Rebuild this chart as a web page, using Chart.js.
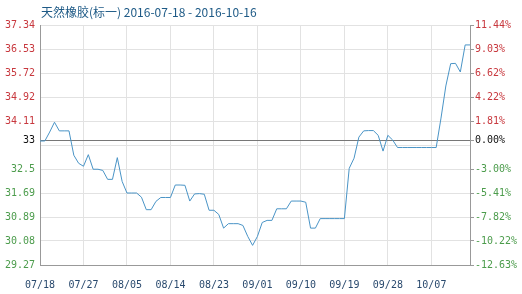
<!DOCTYPE html>
<html>
<head>
<meta charset="utf-8">
<script src="https://cdn.jsdelivr.net/npm/chart.js@4.4.0/dist/chart.umd.min.js"></script>
<style>
    html, body { margin: 0; padding: 0; background: #fff; }
</style>
</head>
<body>
<canvas id="chart" width="522" height="294"></canvas>
<script>
const titleText = "天然橡胶(标一) 2016-07-18 - 2016-10-16";

const dates = [
    "07/18", "07/19", "07/20", "07/21", "07/22", "07/23", "07/24", "07/25", "07/26", "07/27",
    "07/28", "07/29", "07/30", "07/31",
    "08/01", "08/02", "08/03", "08/04", "08/05", "08/06", "08/07", "08/08", "08/09", "08/10",
    "08/11", "08/12", "08/13", "08/14", "08/15", "08/16", "08/17", "08/18", "08/19", "08/20",
    "08/21", "08/22", "08/23", "08/24", "08/25", "08/26", "08/27", "08/28", "08/29", "08/30", "08/31",
    "09/01", "09/02", "09/03", "09/04", "09/05", "09/06", "09/07", "09/08", "09/09", "09/10",
    "09/11", "09/12", "09/13", "09/14", "09/15", "09/16", "09/17", "09/18", "09/19", "09/20",
    "09/21", "09/22", "09/23", "09/24", "09/25", "09/26", "09/27", "09/28", "09/29", "09/30",
    "10/01", "10/02", "10/03", "10/04", "10/05", "10/06", "10/07", "10/08", "10/09", "10/10",
    "10/11", "10/12", "10/13", "10/14", "10/15"
];

const prices = [
    33.44, 33.44, 33.74, 34.07, 33.78, 33.78, 33.78, 32.96, 32.69, 32.59,
    32.98, 32.49, 32.49, 32.45, 32.15, 32.15, 32.88, 32.08, 31.69, 31.69,
    31.69, 31.55, 31.13, 31.13, 31.41, 31.54, 31.54, 31.54, 31.96, 31.96,
    31.95, 31.42, 31.66, 31.67, 31.65, 31.11, 31.11, 30.97, 30.51, 30.66,
    30.66, 30.66, 30.60, 30.23, 29.93, 30.23, 30.70, 30.77, 30.77, 31.16,
    31.16, 31.16, 31.42, 31.42, 31.42, 31.38, 30.51, 30.51, 30.83, 30.83,
    30.83, 30.83, 30.83, 30.83, 32.52, 32.86, 33.57, 33.78, 33.79, 33.79,
    33.63, 33.10, 33.63, 33.47, 33.22, 33.22, 33.22, 33.22, 33.22, 33.22,
    33.22, 33.22, 33.22, 34.21, 35.29, 36.04, 36.05, 35.76, 36.67, 36.67
];

// y ticks, bottom to top (the "33" base line sits between grid lines)
const yMin = 29.27;
const yMax = 37.34;
const baseValue = 33.45;
const tickValues = [29.27, 30.077, 30.884, 31.691, 32.498, 33.305, 33.45, 34.112, 34.919, 35.726, 36.533, 37.34];
const leftLabels = ["29.27", "30.08", "30.89", "31.69", "32.5", "", "33", "34.11", "34.92", "35.72", "36.53", "37.34"];
const rightLabels = ["-12.63%", "-10.22%", "-7.82%", "-5.41%", "-3.00%", "", "0.00%", "1.81%", "4.22%", "6.62%", "9.03%", "11.44%"];

const labelEvery = 9;

const red = "#c8383e";
const green = "#4c9c4c";

function tickColor(value) {
    if (value === baseValue) return "#111";
    return value > baseValue ? red : green;
}

function setTicks(scale) {
    scale.ticks = tickValues.map((v) => ({ value: v }));
}

const titlePlugin = {
    id: "titleText",
    afterDraw(chart) {
        const ctx = chart.ctx;
        ctx.save();
        ctx.font = '12px "Noto Sans CJK SC", sans-serif';
        ctx.fillStyle = "#1e5a86";
        ctx.textBaseline = "middle";
        ctx.textAlign = "left";
        ctx.fillText(titleText, chart.chartArea.left + 1, 12);
        ctx.restore();
    },
};

const monoFont = { family: '"DejaVu Sans Mono", monospace', size: 10 };

new Chart(document.getElementById("chart").getContext("2d"), {
    type: "line",
    data: {
        labels: dates,
        datasets: [
            {
                data: prices,
                borderColor: "#4a94c6",
                borderWidth: 1,
                pointRadius: 0,
                tension: 0,
                fill: false,
                yAxisID: "y",
            },
        ],
    },
    options: {
        responsive: false,
        animation: false,
        layout: { padding: { top: 25, left: 0, right: 0, bottom: 0 } },
        plugins: {
            legend: { display: false },
            tooltip: { enabled: false },
        },
        scales: {
            x: {
                type: "category",
                offset: false,
                afterBuildTicks: (scale) => {
                    scale.ticks = scale.ticks.filter((t) => t.value % labelEvery === 0);
                },
                afterFit: (scale) => { scale.height = 29; },
                ticks: {
                    autoSkip: false,
                    maxRotation: 0,
                    padding: 14,
                    color: "#2a4a6e",
                    font: monoFont,
                },
                grid: { color: "#e2e2e2", drawTicks: false },
                border: { color: "#999" },
            },
            y: {
                position: "left",
                min: yMin,
                max: yMax,
                afterBuildTicks: setTicks,
                afterFit: (scale) => { scale.width = 40; },
                ticks: {
                    padding: 5,
                    font: monoFont,
                    color: (c) => tickColor(c.tick.value),
                    callback: (value, index) => leftLabels[index],
                },
                grid: {
                    drawTicks: false,
                    color: (c) => (c.tick && c.tick.value === baseValue ? "#777" : "#e2e2e2"),
                },
                border: { color: "#999" },
            },
            y1: {
                position: "right",
                min: yMin,
                max: yMax,
                afterBuildTicks: setTicks,
                afterFit: (scale) => { scale.width = 52; },
                ticks: {
                    padding: 1,
                    font: monoFont,
                    color: (c) => tickColor(c.tick.value),
                    callback: (value, index) => rightLabels[index],
                },
                grid: {
                    drawOnChartArea: false,
                    drawTicks: true,
                    tickLength: 4,
                    tickColor: (c) => (rightLabels[c.index] === "" ? "rgba(0,0,0,0)" : "#999"),
                },
                border: { color: "#999" },
            },
        },
    },
    plugins: [titlePlugin],
});
</script>
</body>
</html>
